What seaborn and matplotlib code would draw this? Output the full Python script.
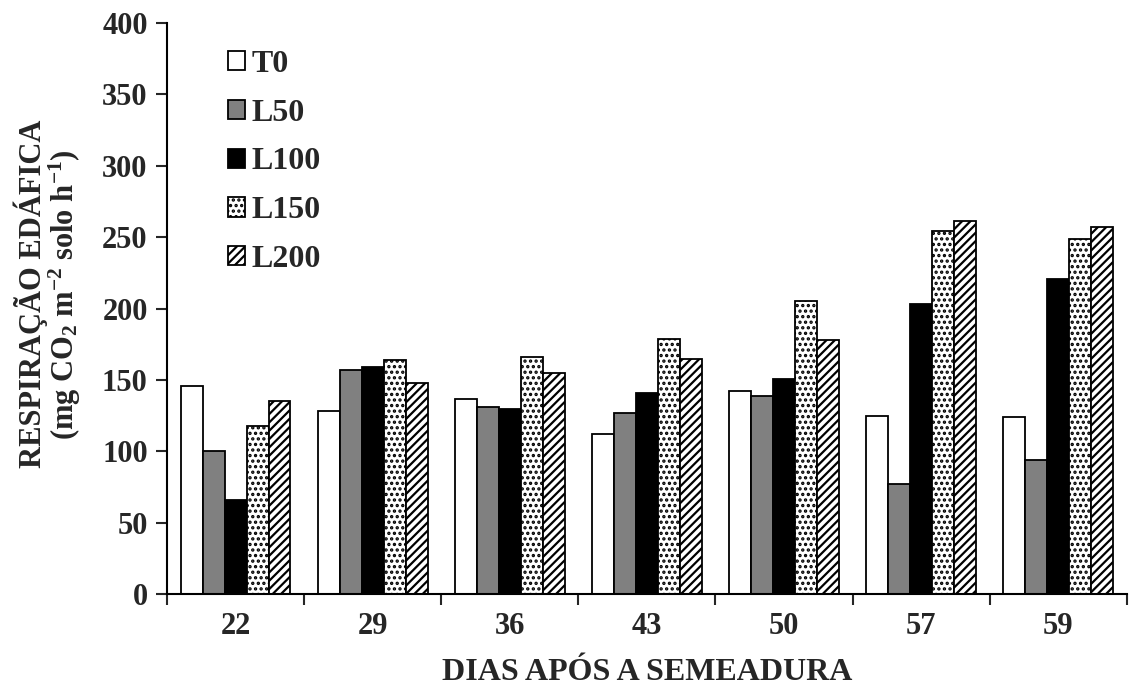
import pandas as pd
import matplotlib
matplotlib.use('Agg')
import matplotlib.pyplot as plt
import seaborn as sns

# values
dias = ['22', '29', '36', '43', '50', '57', '59']
tratamentos = ['T0', 'L50', 'L100', 'L150', 'L200']
t0 = [146, 128, 137, 112, 142, 125, 124]
l50 = [100, 157, 131, 127, 139, 77, 94]
l100 = [66, 159, 130, 141, 151, 203, 221]
l150 = [118, 164, 166, 179, 205, 254, 249]
l200 = [135, 148, 155, 165, 178, 261, 257]

cores = ['white', '#808080', 'black', 'white', 'white']
hachuras = ['', '', '', '...', '////']

df = pd.DataFrame({'dia': dias * 5,
                   'trat': [t for t in tratamentos for _ in dias],
                   'resp': t0 + l50 + l100 + l150 + l200})

sns.set_style('white')
plt.rcParams['font.family'] = ['Liberation Serif', 'DejaVu Serif']
plt.rcParams['font.weight'] = 'bold'
plt.rcParams['mathtext.fontset'] = 'custom'
plt.rcParams['mathtext.rm'] = 'Liberation Serif:bold'
plt.rcParams['mathtext.bf'] = 'Liberation Serif:bold'
plt.rcParams['mathtext.default'] = 'bf'
plt.rcParams['hatch.linewidth'] = 1.6

fig = plt.figure(figsize=(11.29, 6.91), dpi=100)
ax = fig.add_axes([0.148, 0.140, 0.850, 0.827])

sns.barplot(data=df, x='dia', y='resp', hue='trat', order=dias, hue_order=tratamentos,
            palette=cores, width=0.8, edgecolor='black', linewidth=1.3, ax=ax, legend=False)

for cont, hatch in zip(ax.containers, hachuras):
    for p in cont:
        p.set_hatch(hatch)

ax.legend(ax.containers, tratamentos, loc='upper left', bbox_to_anchor=(0.05, 0.975),
          frameon=False, fontsize=23, handlelength=0.55, handleheight=0.55,
          handletextpad=0.2, labelspacing=0.62, borderaxespad=0)

ax.set_ylim(0, 400)
ax.set_xlim(-0.5, 6.5)
ax.set_yticks(range(0, 401, 50))
ax.set_xticks([i - 0.5 for i in range(8)])
ax.set_xticklabels([])
ax.set_xticks(range(7), minor=True)
ax.set_xticklabels(dias, minor=True)
ax.tick_params(axis='x', which='minor', length=0, pad=13, labelsize=22)
ax.tick_params(axis='x', which='major', direction='out', length=8, width=1.5, bottom=True)
ax.tick_params(axis='y', direction='out', length=8, width=1.5, left=True, labelsize=22, pad=6)

for s in ['top', 'right']:
    ax.spines[s].set_visible(False)
for s in ['left', 'bottom']:
    ax.spines[s].set_linewidth(1.5)
    ax.spines[s].set_color('black')

ax.set_xlabel('DIAS APÓS A SEMEADURA', fontsize=23, fontweight='bold', labelpad=12)
ax.set_ylabel('RESPIRAÇÃO EDÁFICA\n(mg CO$_2$ m$^{-2}$ solo h$^{-1}$)', fontsize=22,
              fontweight='bold', linespacing=0.95)
ax.yaxis.set_label_coords(-0.088, 0.525)

fig.savefig('out.png', dpi=100)
